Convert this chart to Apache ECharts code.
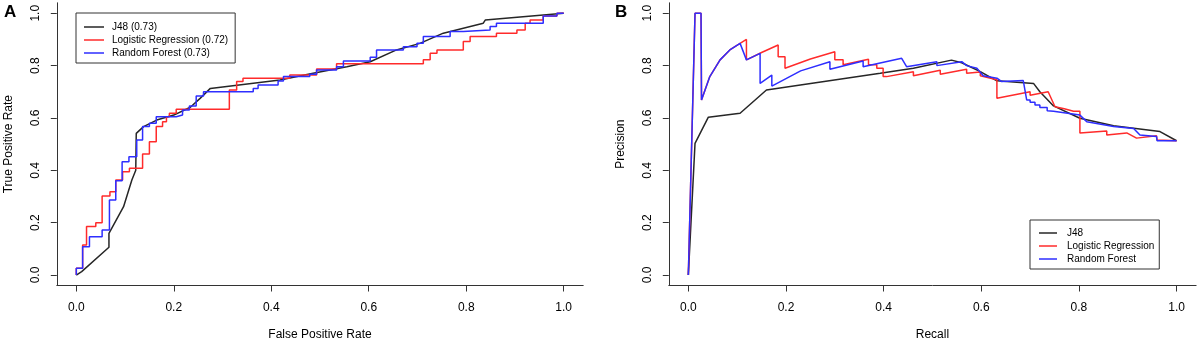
<!DOCTYPE html>
<html>
<head>
<meta charset="utf-8">
<script src="https://cdn.jsdelivr.net/npm/echarts@6/dist/echarts.min.js"></script>
<style>
  html, body { margin: 0; padding: 0; background: #fff; }
  #main { width: 1199px; height: 341px; }
</style>
</head>
<body>
<div id="main"></div>
<script>
// tick values shared by both panels
var tickVals = [0, 0.2, 0.4, 0.6, 0.8, 1.0];

// panel A: ROC curves [fpr, tpr]
var rocJ48 = [[0,0],[0.011,0.013],[0.067,0.106],[0.067,0.159],[0.097,0.261],[0.114,0.363],[0.122,0.40],[0.123,0.541],
  [0.138,0.567],[0.165,0.592],[0.2,0.611],[0.234,0.641],[0.254,0.675],[0.275,0.713],[0.418,0.745],[0.486,0.771],
  [0.555,0.796],[0.603,0.815],[0.657,0.86],[0.705,0.885],[0.753,0.924],[0.835,0.962],[0.839,0.974],[1,1]];
// step points: [x where the step happens, new y]
var rocLR = [[0,0],[0,0.026],[0.013,0.115],[0.021,0.185],[0.040,0.2],[0.053,0.302],[0.069,0.318],[0.081,0.363],
  [0.095,0.395],[0.109,0.408],[0.136,0.462],[0.150,0.509],[0.164,0.567],[0.177,0.586],[0.185,0.605],[0.191,0.618],
  [0.205,0.633],[0.314,0.707],[0.329,0.739],[0.342,0.752],[0.438,0.764],[0.493,0.787],[0.534,0.807],[0.712,0.822],
  [0.726,0.847],[0.74,0.86],[0.794,0.892],[0.808,0.911],[0.862,0.924],[0.904,0.936],[0.921,0.962],[0.931,0.974],
  [0.958,0.99],[0.986,1.0],[1,1]];
var rocRF = [[0,0],[0,0.026],[0.013,0.108],[0.027,0.146],[0.053,0.172],[0.068,0.287],[0.081,0.36],[0.094,0.433],
  [0.108,0.452],[0.124,0.516],[0.136,0.567],[0.150,0.58],[0.164,0.605],[0.205,0.611],[0.218,0.630],[0.232,0.646],
  [0.246,0.684],[0.261,0.70],[0.363,0.713],[0.373,0.726],[0.414,0.741],[0.425,0.758],[0.479,0.767],[0.493,0.783],
  [0.534,0.796],[0.548,0.818],[0.603,0.832],[0.616,0.86],[0.671,0.872],[0.699,0.885],[0.712,0.911],[0.767,0.93],
  [0.794,0.936],[0.849,0.949],[0.862,0.962],[0.958,0.99],[0.986,1.0],[1,1]];

// panel B: precision-recall curves [recall, precision]
var prJ48 = [[0,0],[0.0137,0.503],[0.041,0.603],[0.106,0.618],[0.16,0.707],[0.393,0.771],[0.461,0.79],[0.539,0.821],
  [0.56,0.811],[0.598,0.777],[0.632,0.742],[0.707,0.732],[0.72,0.70],[0.748,0.646],[0.802,0.599],[0.871,0.57],
  [0.966,0.548],[1,0.513]];
var prLR = [[0,0],[0.0137,1],[0.026,1],[0.027,0.669],[0.044,0.758],[0.065,0.822],[0.085,0.86],[0.106,0.885],
  [0.119,0.9],[0.119,0.822],[0.15,0.85],[0.184,0.879],[0.184,0.834],[0.198,0.834],[0.198,0.79],[0.25,0.825],
  [0.30,0.853],[0.30,0.822],[0.317,0.822],[0.317,0.803],[0.369,0.824],[0.369,0.803],[0.386,0.803],[0.386,0.79],
  [0.399,0.79],[0.399,0.758],[0.406,0.758],[0.461,0.777],[0.461,0.761],[0.516,0.782],[0.516,0.767],[0.57,0.786],
  [0.57,0.771],[0.598,0.776],[0.598,0.761],[0.632,0.746],[0.632,0.675],[0.70,0.70],[0.70,0.687],[0.737,0.70],
  [0.751,0.643],[0.77,0.635],[0.789,0.626],[0.802,0.626],[0.802,0.543],[0.857,0.55],[0.857,0.535],[0.898,0.543],
  [0.918,0.523],[0.959,0.532],[0.96,0.516],[1,0.513]];
var prRF = [[0,0],[0.0137,1],[0.026,1],[0.027,0.669],[0.044,0.758],[0.065,0.822],[0.085,0.86],[0.106,0.885],
  [0.119,0.822],[0.147,0.847],[0.147,0.732],[0.171,0.764],[0.171,0.722],[0.23,0.78],[0.29,0.815],[0.29,0.786],
  [0.358,0.818],[0.358,0.796],[0.437,0.828],[0.447,0.796],[0.509,0.815],[0.509,0.80],[0.56,0.815],[0.57,0.80],
  [0.591,0.79],[0.604,0.761],[0.632,0.752],[0.642,0.739],[0.686,0.743],[0.693,0.669],[0.70,0.669],[0.70,0.66],
  [0.71,0.66],[0.71,0.65],[0.72,0.65],[0.72,0.64],[0.735,0.64],[0.735,0.628],[0.748,0.626],[0.802,0.611],
  [0.816,0.586],[0.871,0.567],[0.912,0.56],[0.925,0.535],[0.959,0.529],[0.96,0.513],[1,0.513]];

var rocNames = ['J48 (0.73)', 'Logistic Regression (0.72)', 'Random Forest (0.73)'];
var prNames = ['J48', 'Logistic Regression', 'Random Forest'];
var colors = ['#262626', '#ff2b2b', '#2e2eff'];

var font = 'Liberation Sans, Arial, sans-serif';

function xAx(gi, name) {
  return {
    type: 'value', gridIndex: gi, min: -0.04, max: 1.04,
    name: name, nameLocation: 'middle', nameGap: 43,
    nameTextStyle: { color: '#000', fontSize: 12, fontFamily: font },
    axisLine: { show: true, onZero: false, lineStyle: { color: '#333', width: 1 } },
    axisTick: { show: true, customValues: tickVals, length: 6, lineStyle: { color: '#333' } },
    axisLabel: { customValues: tickVals, margin: 16, color: '#000', fontSize: 12, fontFamily: font,
      formatter: function (v) { return v.toFixed(1); } },
    splitLine: { show: false }
  };
}
function yAx(gi, name) {
  return {
    type: 'value', gridIndex: gi, min: -0.04, max: 1.04,
    name: name, nameLocation: 'middle', nameGap: 42,
    nameTextStyle: { color: '#000', fontSize: 12, fontFamily: font },
    axisLine: { show: true, onZero: false, lineStyle: { color: '#333', width: 1 } },
    axisTick: { show: true, customValues: tickVals, length: 6, lineStyle: { color: '#333' } },
    axisLabel: { customValues: tickVals, rotate: 90, margin: 15, color: '#000', fontSize: 12, fontFamily: font,
      formatter: function (v) { return v.toFixed(1); } },
    splitLine: { show: false }
  };
}
function line(name, data, gi, color, step) {
  return {
    name: name, type: 'line', xAxisIndex: gi, yAxisIndex: gi, data: data,
    symbol: 'none', step: step || false, smooth: false, animation: false,
    lineStyle: { color: color, width: 1.5 }, itemStyle: { color: color }
  };
}

var myChart = echarts.init(document.getElementById('main'));
var option = {
  backgroundColor: '#fff',
  animation: false,
  grid: [
    { left: 56.8, top: 2.8, width: 526.4, height: 282.7, outerBoundsMode: 'none', containLabel: false },
    { left: 668.8, top: 2.8, width: 527.3, height: 282.7, outerBoundsMode: 'none', containLabel: false }
  ],
  xAxis: [xAx(0, 'False Positive Rate'), xAx(1, 'Recall')],
  yAxis: [yAx(0, 'True Positive Rate'), yAx(1, 'Precision')],
  legend: [
    {
      data: rocNames, orient: 'vertical', left: 76, top: 13, icon: 'rect',
      itemWidth: 20, itemHeight: 1.5, itemGap: 3,
      borderColor: '#333', borderWidth: 1, borderRadius: 0, padding: [9, 7, 5, 8],
      textStyle: { color: '#000', fontSize: 10, fontFamily: font, lineHeight: 10, padding: [0, 0, 0, 3] }
    },
    {
      data: prNames, orient: 'vertical', left: 1030, top: 220, icon: 'rect',
      itemWidth: 18, itemHeight: 1.5, itemGap: 3,
      borderColor: '#333', borderWidth: 1, borderRadius: 0, padding: [8, 5, 5, 9],
      textStyle: { color: '#000', fontSize: 10, fontFamily: font, lineHeight: 10, padding: [0, 0, 0, 5] }
    }
  ],
  graphic: [
    { type: 'text', left: 4, top: 4, style: { text: 'A', font: 'bold 17px ' + font, fill: '#000' } },
    { type: 'text', left: 615, top: 4, style: { text: 'B', font: 'bold 17px ' + font, fill: '#000' } }
  ],
  series: [
    line(rocNames[0], rocJ48, 0, colors[0]),
    line(rocNames[1], rocLR, 0, colors[1], 'end'),
    line(rocNames[2], rocRF, 0, colors[2], 'end'),
    line(prNames[0], prJ48, 1, colors[0]),
    line(prNames[1], prLR, 1, colors[1]),
    line(prNames[2], prRF, 1, colors[2])
  ]
};
myChart.setOption(option);
</script>
</body>
</html>
